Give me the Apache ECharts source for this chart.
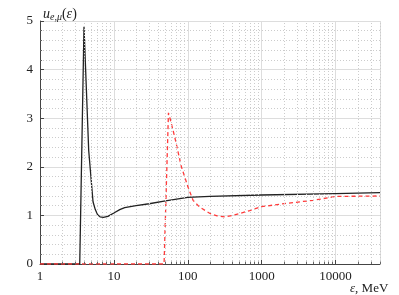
<!DOCTYPE html>
<html><head><meta charset="utf-8">
<script src="https://cdn.jsdelivr.net/npm/echarts@6/dist/echarts.min.js"></script>
<style>html,body{margin:0;padding:0;background:#fff}#c{width:399px;height:295px}</style>
</head><body><div id="c"></div>
<script>
const xTickLabels = ['1', '10', '100', '1000', '10000'];
const electronX = [1, 3.45, 3.94, 4.56, 5.22, 5.6, 6.0, 6.5, 7.2, 8.3, 10, 12, 14, 20, 30, 50, 100, 200, 1000, 10000, 40000];
const electronY = [0, 0, 4.88, 2.34, 1.28, 1.12, 1.02, 0.97, 0.96, 0.98, 1.05, 1.12, 1.16, 1.2, 1.24, 1.3, 1.37, 1.39, 1.42, 1.45, 1.47];
const muonX = [1, 47.8, 54.8, 57, 66.7, 82, 101, 118, 145, 200, 250, 317, 410, 690, 1000, 1760, 3300, 5000, 8400, 10000, 40000];
const muonY = [0, 0, 3.11, 3.02, 2.61, 2.0, 1.58, 1.31, 1.17, 1.04, 0.99, 0.97, 1.0, 1.1, 1.18, 1.23, 1.28, 1.31, 1.37, 1.39, 1.40];
const minorX = [2,3,4,5,6,7,8,9,20,30,40,50,60,70,80,90,200,300,400,500,600,700,800,900,2000,3000,4000,5000,6000,7000,8000,9000,20000,30000,40000];

const pair = (xs, ys) => xs.map((x, i) => [x, ys[i]]);
const serif = 'Liberation Serif';
const chart = echarts.init(document.getElementById('c'), null, {renderer: 'canvas'});
chart.setOption({
  animation: false,
  title: [
    {text: '{u|u}{s|e,μ}{p|(}{u|ε}{p|)}', left: 38, top: 1,
     textStyle: {fontWeight: 'normal', rich: {
       u: {fontFamily: serif, fontStyle: 'italic', fontWeight: 'normal', fontSize: 14, color: '#222'},
       s: {fontFamily: serif, fontStyle: 'italic', fontWeight: 'normal', fontSize: 10, color: '#222', padding: [6, 0, 0, 0]},
       p: {fontFamily: serif, fontWeight: 'normal', fontSize: 14, color: '#222'}
     }}},
    {text: '{e|ε}{p|, MeV}', left: 345, top: 277,
     textStyle: {fontWeight: 'normal', rich: {
       e: {fontFamily: serif, fontStyle: 'italic', fontWeight: 'normal', fontSize: 13, color: '#222'},
       p: {fontFamily: serif, fontWeight: 'normal', fontSize: 13, color: '#222'}
     }}}
  ],
  grid: {left: 40, right: 19, top: 21, bottom: 31, containLabel: false},
  xAxis: {
    type: 'log', logBase: 10, min: 1, max: 40000,
    axisLine: {show: true, lineStyle: {color: '#444', width: 1}},
    axisTick: {show: true, inside: true, length: 4, lineStyle: {color: '#444'}},
    axisLabel: {fontFamily: serif, fontSize: 13, color: '#222', margin: 6, showMaxLabel: false,
      formatter: v => { const s = String(Math.round(v)); return xTickLabels.includes(s) ? s : ''; }},
    splitLine: {show: true, lineStyle: {color: '#ddd', width: 1}}
  },
  yAxis: {
    type: 'value', min: 0, max: 5, interval: 1,
    axisLine: {show: true, lineStyle: {color: '#444', width: 1}},
    axisTick: {show: true, inside: true, length: 4, lineStyle: {color: '#444'}},
    minorTick: {show: true, splitNumber: 5, length: 2, lineStyle: {color: '#666'}},
    axisLabel: {fontFamily: serif, fontSize: 13, color: '#222', margin: 7},
    splitLine: {show: true, lineStyle: {color: '#ddd', width: 1}},
    minorSplitLine: {show: true, lineStyle: {color: '#ccc', width: 1, type: [1, 2]}}
  },
  series: [
    {type: 'line', data: [[1, 0]], symbol: 'none', lineStyle: {opacity: 0}, silent: true, z: 1,
     markLine: {silent: true, symbol: 'none', label: {show: false}, animation: false,
       lineStyle: {color: '#ccc', width: 1, type: [1, 2]},
       data: minorX.map(v => ({xAxis: v})).concat(
         minorX.map(v => [{coord: [v, 0], lineStyle: {color: '#666', type: 'solid'}}, {coord: [v, 0.05]}]))}},
    {name: 'e', type: 'line', data: pair(electronX, electronY), symbol: 'none', z: 3,
     lineStyle: {color: '#222', width: 1.3}},
    {name: 'mu', type: 'line', data: pair(muonX, muonY), symbol: 'none', z: 4,
     lineStyle: {color: '#ff3b3b', width: 1.3, type: [4, 3]}}
  ]
});
</script></body></html>
